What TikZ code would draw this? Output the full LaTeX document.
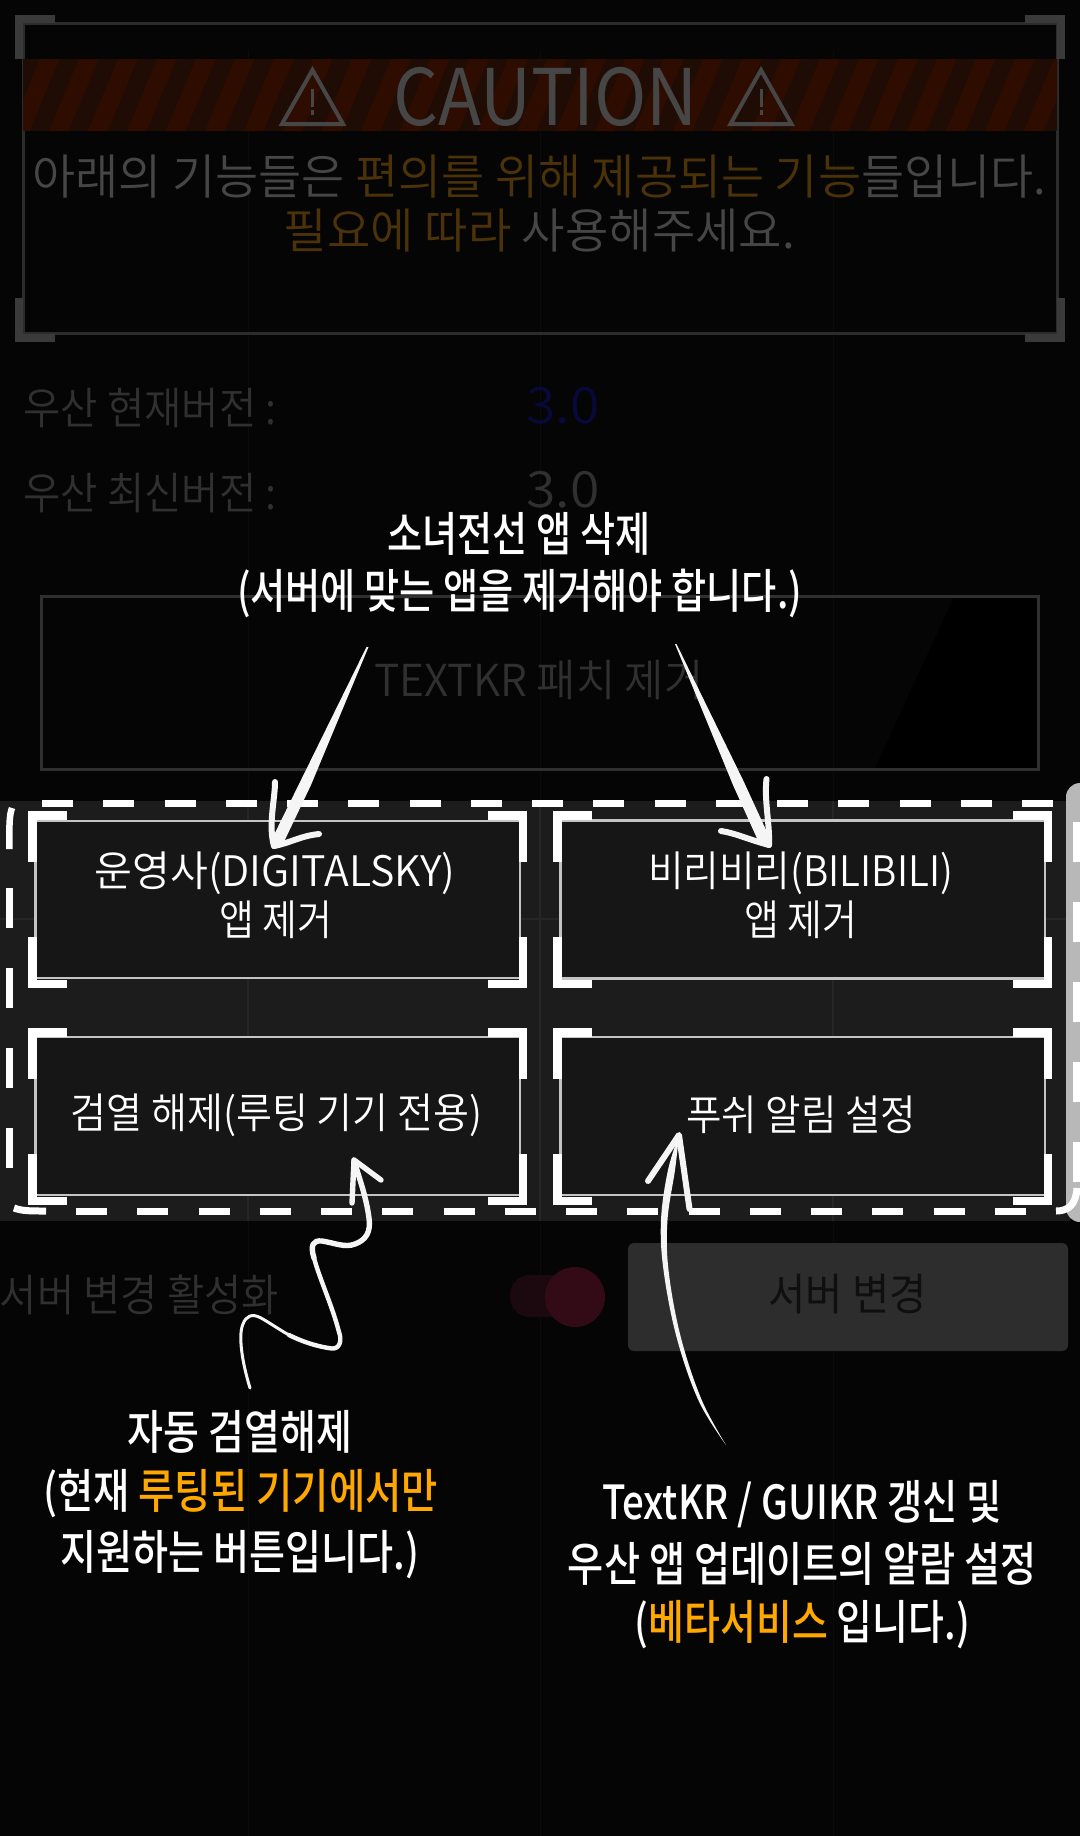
\documentclass[tikz,border=0pt]{standalone}
\usepackage{fontspec}
\usepackage{graphicx}
\usetikzlibrary{calc}
\setmainfont{Noto Sans CJK KR}
\newfontfamily\lightf{Noto Sans CJK KR DemiLight}
\newfontfamily\medf{Noto Sans CJK KR Medium}
\definecolor{bgc}{HTML}{050505}
\definecolor{panelc}{HTML}{1C1C1C}
\definecolor{btnc}{HTML}{161616}
\definecolor{framec}{HTML}{C4C4C4}
\definecolor{dimc}{HTML}{303030}
\definecolor{cornerc}{HTML}{3A3A3A}
\definecolor{captxt}{HTML}{464646}
\definecolor{capor}{HTML}{4B3208}
\definecolor{orangec}{HTML}{FFA800}
\definecolor{inkc}{HTML}{F5F5F5}
\definecolor{redA}{HTML}{2E0C00}
\definecolor{redB}{HTML}{1F0C04}
\definecolor{gridA}{HTML}{262626}
\definecolor{gridB}{HTML}{0B0B0B}
% natural height, exact width
\newcommand\fitw[2]{\resizebox{#1}{\height}{#2}}
\newcommand\brackets[5]{%
  \draw[#5,line width=4.25pt]
    ({#1+39},{#2+4.25}) -- ({#1+4.25},{#2+4.25}) -- ({#1+4.25},{#2+51})
    ({#3-39},{#2+4.25}) -- ({#3-4.25},{#2+4.25}) -- ({#3-4.25},{#2+51})
    ({#1+39},{#4-4.25}) -- ({#1+4.25},{#4-4.25}) -- ({#1+4.25},{#4-51})
    ({#3-39},{#4-4.25}) -- ({#3-4.25},{#4-4.25}) -- ({#3-4.25},{#4-51});}
\tikzset{
  txt/.style={inner sep=0pt,outer sep=0pt,anchor=center},
  btntxt/.style={txt,white,font=\lightf\fontsize{21}{24}\selectfont},
  note/.style={txt,white,font=\medf\fontsize{23.5}{26}\selectfont},
  dimtxt/.style={txt,dimc,font=\lightf\fontsize{22}{24}\selectfont},
  captxtst/.style={txt,captxt,font=\lightf\fontsize{24}{26}\selectfont},
  btnbox/.style={draw=framec,line width=1.4pt,fill=btnc,inner sep=0pt},
  dashln/.style={white,line width=3.5pt},
  shaft/.style={fill=inkc},
  barb/.style={draw=inkc,line cap=round,line join=round,line width=3pt},
  wig/.style={draw=inkc,line cap=round,line join=round}
}
\begin{document}
\begin{tikzpicture}[x=0.5pt,y=-0.5pt]
\useasboundingbox (0,0) rectangle (1080,1836);
\fill[bgc] (0,0) rectangle (1080,1836);
% faint grid on the dark ground
\foreach \gx in {248,540,833} \draw[gridB,line width=0.5pt] (\gx,50) -- (\gx,1836);
% caution frame
\draw[cornerc!75!black,line width=1.5pt] (23,23) rectangle (1057,333);
\draw[cornerc,line width=4pt] (55,19) -- (19,19) -- (19,59) (1025,19) -- (1061,19) -- (1061,59)
   (55,338) -- (19,338) -- (19,298) (1025,338) -- (1061,338) -- (1061,298);
% hazard band
\fill[redB] (23,59) rectangle (1057,131);
\begin{scope}
\clip (23,59) rectangle (1057,131);
\foreach \i in {-1,...,27} {
  \fill[redA] ({\i*39+10},131) -- ({\i*39+29.5},131) -- ({\i*39+29.5+30},59) -- ({\i*39+10+30},59) -- cycle;
}
\end{scope}
\draw[captxt,line width=2pt,line join=miter] (312.5,70) -- (282,124) -- (343,124) -- cycle;
\draw[captxt,line width=1.5pt] (312.5,89) -- (312.5,107) (312.5,110) -- (312.5,115);
\draw[captxt,line width=2pt,line join=miter] (761,70) -- (730.5,124) -- (791.5,124) -- cycle;
\draw[captxt,line width=1.5pt] (761,89) -- (761,107) (761,110) -- (761,115);
\node[txt,captxt,font=\fontsize{39}{40}\selectfont] (caution) at (545.5,96.5) {\fitw{152pt}{CAUTION}};
\node[captxtst] (cap1) at (539.5,177) {\fitw{507pt}{아래의 기능들은 {\color{capor}편의를 위해 제공되는 기능}들입니다.}};
\node[captxtst] (cap2) at (539.5,231) {\fitw{255.5pt}{{\color{capor}필요에 따라} 사용해주세요.}};
% version rows
\node[dimtxt] (cur) at (150,408) {\fitw{126.5pt}{우산 현재버전 :}};
\node[txt,font=\lightf\fontsize{25}{26}\selectfont,color={rgb,255:red,8;green,8;blue,58}] (curv) at (563,406) {\fitw{36.5pt}{3.0}};
\node[dimtxt] (new) at (150,493) {\fitw{126.5pt}{우산 최신버전 :}};
\node[txt,dimc,font=\lightf\fontsize{25}{26}\selectfont] (newv) at (563,490) {\fitw{36.5pt}{3.0}};
% TEXTKR box
\fill[black] (954,597) -- (1036,597) -- (1036,768) -- (875,768) -- cycle;
\draw[dimc,line width=1.5pt] (41,596) rectangle (1038,769);
\node[dimtxt] (patch) at (539,680) {\fitw{164.5pt}{TEXTKR 패치 제거}};
% panel
\fill[panelc] (0,801) rectangle (1070,1221);
\fill[black!28!white,rounded corners=7pt] (1066,783) rectangle (1110,1222);
\foreach \gx in {248,540,833} \draw[gridA,line width=0.7pt] (\gx,801) -- (\gx,1221);
\draw[gridA,line width=0.7pt] (0,919) -- (1066,919);
% buttons
\node[btnbox,minimum width=242.25pt,minimum height=78.5pt] (b1) at (277.75,899.5) {};
\node[btnbox,minimum width=242.25pt,minimum height=79pt] (b2) at (802.75,899.5) {};
\node[btnbox,minimum width=242.25pt,minimum height=79pt] (b3) at (277.75,1116) {};
\node[btnbox,minimum width=242.25pt,minimum height=79pt] (b4) at (802.75,1116) {};
\brackets{28}{811}{527}{988}{white}
\brackets{553}{811}{1052}{988}{white}
\brackets{28}{1028}{527}{1205}{white}
\brackets{553}{1028}{1052}{1205}{white}
\node[btntxt] (t1a) at (275,873) {\fitw{180.5pt}{운영사(DIGITALSKY)}};
\node[btntxt] (t1b) at (276,920) {\fitw{56.5pt}{앱 제거}};
\node[btntxt] (t2a) at (800.5,873) {\fitw{152.5pt}{비리비리(BILIBILI)}};
\node[btntxt] (t2b) at (800.5,920) {\fitw{56.5pt}{앱 제거}};
\node[btntxt] (t3) at (276.5,1115) {\fitw{206pt}{검열 해제(루팅 기기 전용)}};
\node[btntxt] (t4) at (801,1115) {\fitw{115pt}{푸쉬 알림 설정}};
% dashed selection
\draw[dashln,dash pattern=on 15.5pt off 15.13pt] (42,803) -- (1053,803);
\draw[dashln,dash pattern=on 15.5pt off 15.13pt] (76,1211) -- (1056,1211);
\draw[dashln] (14,1208) .. controls (22,1211) and (30,1211) .. (46,1211);
\draw[dashln,line width=3.25pt] (12,808) .. controls (9.5,815) and (9.25,822) .. (9.25,849);
\draw[dashln,line width=3.25pt,dash pattern=on 20pt off 20pt] (9.25,888) -- (9.25,1169);
\draw[dashln,dash pattern=on 20pt off 20pt] (1076.5,822) -- (1076.5,1182);
\draw[dashln] (1056,1211) .. controls (1068,1211) and (1076,1205) .. (1077,1188);
% server row
\node[txt,dimc,font=\lightf\fontsize{22}{24}\selectfont,anchor=west] (srv) at (0,1295) {\fitw{139.5pt}{서버 변경 활성화}};
\fill[color={rgb,255:red,28;green,9;blue,15},rounded corners=10pt] (510,1275) rectangle (590,1317);
\fill[color={rgb,255:red,51;green,11;blue,23}] (575,1297) circle[radius=15pt];
\fill[color={rgb,255:red,45;green,45;blue,45},rounded corners=3pt] (628,1243) rectangle (1068,1351);
\node[txt,color={rgb,255:red,15;green,15;blue,15},font=\fontsize{22}{24}\selectfont] (srvb) at (847.5,1294.5) {\fitw{79pt}{서버 변경}};
% annotations
\node[note] (n1a) at (519,534) {\fitw{131.5pt}{소녀전선 앱 삭제}};
\node[note] (n1b) at (519.5,593.5) {\fitw{282.5pt}{(서버에 맞는 앱을 제거해야 합니다.)}};
\node[note] (n2a) at (240,1431.5) {\fitw{112pt}{자동 검열해제}};
\node[note] (n2b) at (240.5,1494) {\fitw{197.5pt}{(현재 {\color{orangec}루팅된 기기에서만}}};
\node[note] (n2c) at (239.5,1555) {\fitw{179.5pt}{지원하는 버튼입니다.)}};
\node[note] (n3a) at (802,1504) {\fitw{200pt}{TextKR / GUIKR 갱신 및}};
\node[note] (n3b) at (802.5,1563.5) {\fitw{234.5pt}{우산 앱 업데이트의 알람 설정}};
\node[note] (n3c) at (802.5,1625) {\fitw{167.5pt}{({\color{orangec}베타서비스} 입니다.)}};
% arrow: left of the app removal
\coordinate (a1s) at (366.5,647);
\coordinate (a1t) at (274,846);
\fill[shaft] (a1s) -- ($(a1s)+(2,0)$) -- (311,785) -- ($(a1t)+(8,0)$) -- ($(a1t)+(-4,-3)$) -- (301,780) -- cycle;
\draw[barb] (275,782) .. controls (275,800) and (268,825) .. (a1t);
\draw[barb] (319,834) .. controls (300,836) and (290,843) .. (a1t);
% arrow: right of the app removal
\coordinate (a2s) at (675,644);
\coordinate (a2t) at (769,845);
\fill[shaft] (a2s) -- ($(a2s)+(1.5,0)$) -- (743,780) -- ($(a2t)+(3,-2)$) -- ($(a2t)+(-9,0)$) -- (733,785) -- cycle;
\draw[barb] (766.5,779) .. controls (764,800) and (770,825) .. (a2t);
\draw[barb] (721,831) .. controls (735,833) and (750,840) .. (a2t);
% arrow: squiggle
\coordinate (a3s) at (250,1388);
\coordinate (a3t) at (354,1160);
\draw[wig,line width=1.5pt] (a3s) .. controls (242,1362) and (238,1335) .. (243,1324) .. controls (246,1316) and (252,1313) .. (261,1318) .. controls (270,1323) and (280,1330) .. (289,1335);
\draw[wig,line width=2.2pt] (289,1335) .. controls (305,1343) and (320,1347) .. (332,1348.5) .. controls (340,1349) and (342,1340) .. (339,1332) .. controls (332,1305) and (320,1280) .. (314,1258);
\draw[wig,line width=2.7pt] (314,1258) .. controls (310,1245) and (313,1240) .. (322,1241) .. controls (335,1243) and (345,1248) .. (355,1244) .. controls (366,1240) and (371,1232) .. (369,1218) .. controls (366,1195) and (358,1175) .. (a3t);
\draw[barb,line width=2.7pt] (352,1203) -- (a3t) -- (381,1180);
% arrow: long curve
\coordinate (a4s) at (726,1445);
\coordinate (a4t) at (679,1135);
\fill[shaft] plot[smooth,tension=.6] coordinates {(a4s) (698.5,1400.5) (676.5,1337) (663.5,1270) (661,1220) (668,1170) (a4t)}
  -- plot[smooth,tension=.6] coordinates {(a4t) (675,1170) (667.5,1220) (668.5,1270) (680.5,1336) (701.5,1399.5) (a4s)} -- cycle;
\draw[barb] (648,1181) -- (a4t) -- (689.5,1209);
\end{tikzpicture}
\end{document}
